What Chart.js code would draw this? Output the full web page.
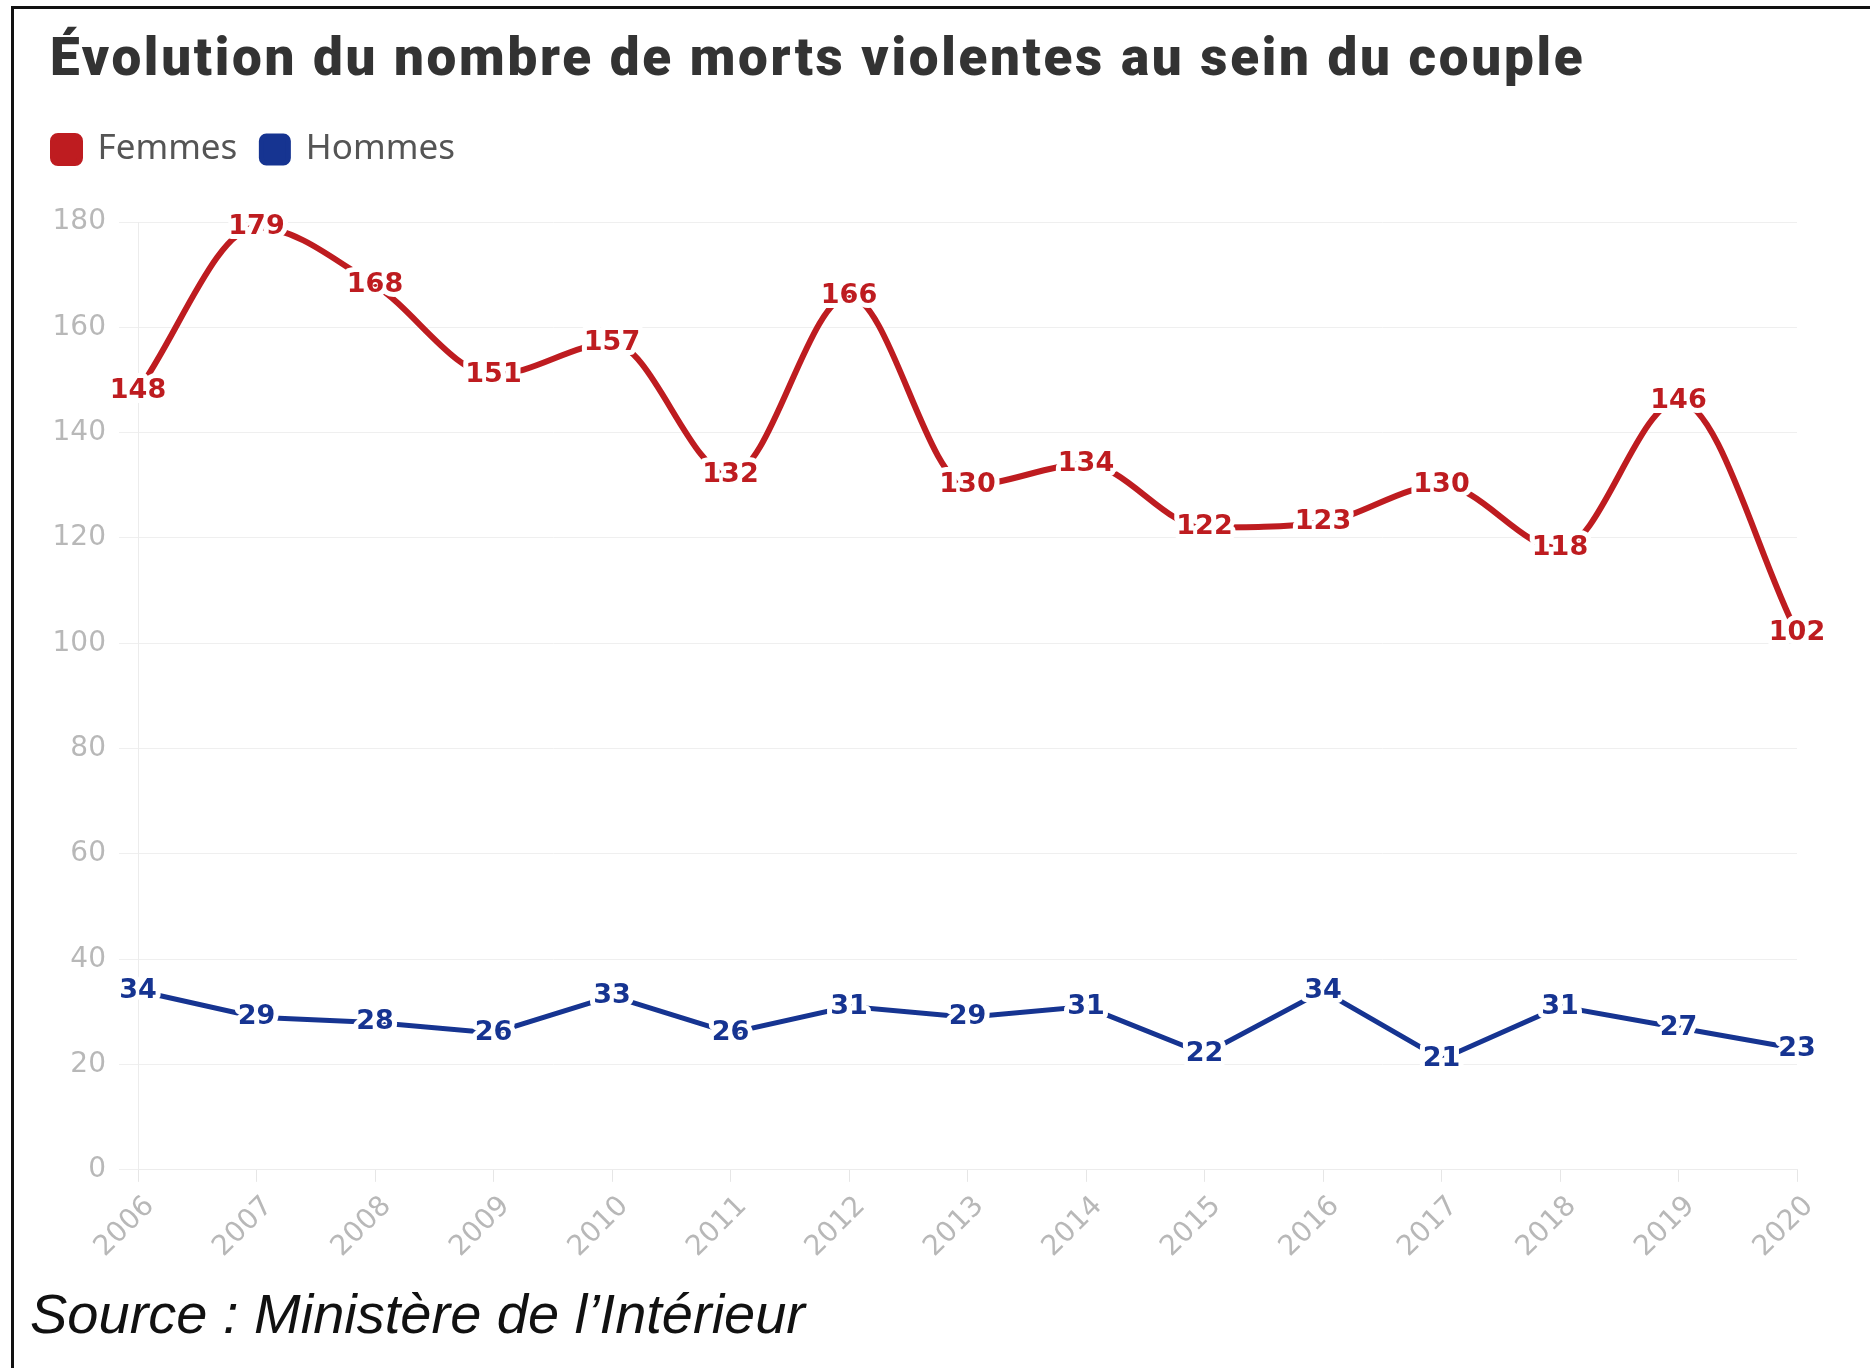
<!DOCTYPE html>
<html>
<head>
<meta charset="utf-8">
<script src="https://cdn.jsdelivr.net/npm/chart.js@4.4.0/dist/chart.umd.min.js"></script>
<style>
  html, body { margin: 0; padding: 0; background: #fff; }
  #wrap { position: relative; width: 1870px; height: 1368px; overflow: hidden; }
  #frame { position: absolute; left: 11px; top: 6px; right: 0; bottom: 0; border-top: 3px solid #111; border-left: 3px solid #111; }
  #titre { position: absolute; left: 50px; top: 31px; font: 900 53px Roboto, sans-serif; letter-spacing: 2.7px; line-height: 52px; color: #333; white-space: nowrap; }
  #source { position: absolute; left: 30px; top: 1286px; font: italic 56px "Liberation Sans", Arial, sans-serif; line-height: 56px; color: #111; white-space: nowrap; }
  canvas { position: absolute; left: 0; top: 0; }
</style>
</head>
<body>
<div id="wrap">
  <div id="frame"></div>
  <div id="titre">Évolution du nombre de morts violentes au sein du couple</div>
  <canvas id="lineChart" width="1870" height="1368"></canvas>
  <div id="source">Source : Ministère de l’Intérieur</div>
</div>
<script>
var annees = ['2006', '2007', '2008', '2009', '2010', '2011', '2012', '2013', '2014', '2015', '2016', '2017', '2018', '2019', '2020'];
var femmes = [148, 179, 168, 151, 157, 132, 166, 130, 134, 122, 123, 130, 118, 146, 102];
var hommes = [34, 29, 28, 26, 33, 26, 31, 29, 31, 22, 34, 21, 31, 27, 23];

var rouge = 'rgb(190, 28, 32)';
var bleu = 'rgb(22, 52, 145)';

// valeurs écrites sur chaque point, avec un halo blanc
var etiquettes = {
    id: 'etiquettes',
    afterDatasetsDraw: function (chart) {
        var ctx = chart.ctx;
        chart.data.datasets.forEach(function (ds, i) {
            var meta = chart.getDatasetMeta(i);
            ctx.save();
            ctx.font = 'bold 27px "DejaVu Sans"';
            ctx.textAlign = 'center';
            ctx.textBaseline = 'middle';
            ctx.lineJoin = 'round';
            ctx.lineWidth = 10;
            ctx.strokeStyle = '#fff';
            ctx.fillStyle = ds.borderColor;
            meta.data.forEach(function (pt, j) {
                var txt = String(ds.data[j]);
                ctx.strokeText(txt, pt.x, pt.y);
                ctx.fillText(txt, pt.x, pt.y);
            });
            ctx.restore();
        });
    }
};

// un peu d'espace sous la légende
var margeLegende = {
    id: 'margeLegende',
    beforeInit: function (chart) {
        var fit = chart.legend.fit;
        chart.legend.fit = function () {
            fit.bind(chart.legend)();
            this.height += 45;
        };
    }
};

var data = {
    labels: annees,
    datasets: [{
        label: 'Femmes',
        data: femmes,
        borderColor: rouge,
        backgroundColor: rouge,
        borderWidth: 6,
        pointRadius: 0,
        cubicInterpolationMode: 'monotone'
    }, {
        label: 'Hommes',
        data: hommes,
        borderColor: bleu,
        backgroundColor: bleu,
        borderWidth: 5,
        pointRadius: 0,
        tension: 0
    }]
};

var config = {
    type: 'line',
    data: data,
    options: {
        responsive: false,
        devicePixelRatio: 1,
        animation: false,
        layout: {
            padding: { top: 108, left: 29, right: 73, bottom: 96 }
        },
        plugins: {
            legend: {
                align: 'start',
                labels: {
                    boxWidth: 27,
                    boxHeight: 27,
                    useBorderRadius: true,
                    borderRadius: 5,
                    padding: 24,
                    color: '#555',
                    font: { family: 'Noto Sans', size: 35 }
                }
            },
            tooltip: { enabled: false }
        },
        scales: {
            x: {
                grid: { drawOnChartArea: false, drawTicks: true, tickLength: 12, color: '#e6e6e6' },
                border: { color: '#ececec' },
                ticks: {
                    minRotation: 45,
                    maxRotation: 45,
                    padding: 8,
                    labelOffset: 12,
                    color: '#b8b8b8',
                    font: { family: 'DejaVu Sans', size: 28 }
                }
            },
            y: {
                min: 0,
                max: 180,
                afterFit: function (scale) { scale.width = 109; },
                grid: { color: '#efefef', tickLength: 19 },
                border: { color: '#ececec' },
                ticks: {
                    stepSize: 20,
                    padding: 13,
                    color: '#b8b8b8',
                    font: { family: 'DejaVu Sans', size: 28 }
                }
            }
        }
    },
    plugins: [etiquettes, margeLegende]
};

var lineChart = new Chart(document.getElementById('lineChart'), config);
</script>
</body>
</html>
